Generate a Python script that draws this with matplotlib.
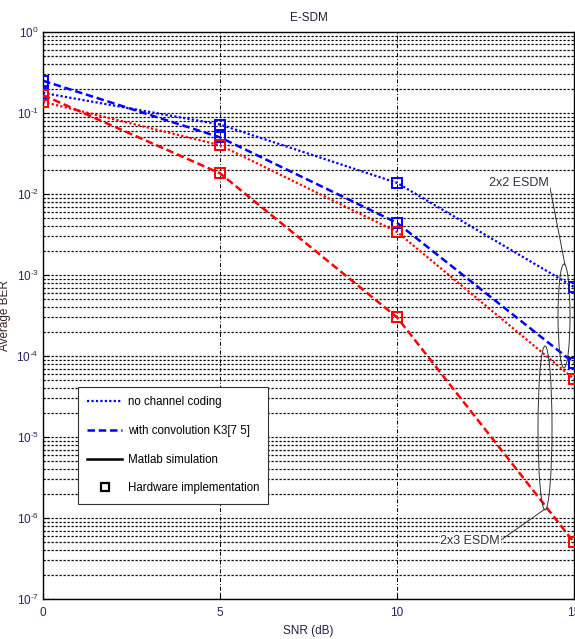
import matplotlib
matplotlib.use("Agg")
import matplotlib.pyplot as plt
from matplotlib.patches import Ellipse
from matplotlib.lines import Line2D
import numpy as np

plt.rcParams['font.family'] = ['Liberation Sans Narrow', 'Liberation Sans', 'DejaVu Sans']
plt.rcParams['mathtext.fontset'] = 'custom'
plt.rcParams['mathtext.rm'] = 'Liberation Sans'

snr = [0, 5, 10, 15]
ber_2x2_uncoded = [0.177, 0.072, 0.0137, 7.1e-4]
ber_2x2_coded = [0.25, 0.050, 0.0044, 8.2e-5]
ber_2x3_uncoded = [0.137, 0.040, 0.0034, 5.2e-5]
ber_2x3_coded = [0.166, 0.018, 3.0e-4, 5.0e-7]

xticks = [0, 5, 10, 15]
ydecades = [0, -1, -2, -3, -4, -5, -6, -7]

tick_color = '#26265a'

fig = plt.figure(figsize=(5.75, 6.39), dpi=100)
ax = fig.add_axes([0.0748, 0.0626, 0.9235, 0.8874])

# grid
for d in range(-7, 0):
    for m in range(1, 10):
        v = m * 10.0 ** d
        ax.axhline(v, color='black', lw=0.9, ls=(0, (1.8, 1.4)), zorder=0)
for xv in [5, 10]:
    ax.axvline(xv, color='black', lw=0.7, ls=(0, (4, 2, 1, 2)), zorder=0)

ms = 7
ax.plot(snr, ber_2x2_uncoded, color='blue', ls=(0, (1, 1)), lw=1.6,
        marker='s', ms=ms, mfc='none', mew=1.4, zorder=3)
ax.plot(snr, ber_2x2_coded, color='blue', ls=(0, (3, 1.5)), lw=1.8,
        marker='s', ms=ms, mfc='none', mew=1.4, zorder=3)
ax.plot(snr, ber_2x3_uncoded, color='red', ls=(0, (1, 1)), lw=1.6,
        marker='s', ms=ms, mfc='none', mew=1.4, zorder=3)
ax.plot(snr, ber_2x3_coded, color='red', ls=(0, (3, 1.5)), lw=1.8,
        marker='s', ms=ms, mfc='none', mew=1.4, zorder=3)

ax.set_yscale('log')
ax.set_xlim(0, 15)
ax.set_ylim(1e-7, 1)
ax.set_xticks(xticks)
ax.set_xticklabels([str(x) for x in xticks])
ax.set_yticks([10.0 ** d for d in ydecades])
ax.set_yticklabels([r'$10^{\text{%d}}$' % d for d in ydecades])
ax.yaxis.set_minor_locator(matplotlib.ticker.NullLocator())
ax.tick_params(axis='both', which='major', labelsize=8.5, colors='black',
               labelcolor=tick_color, direction='in', length=4)
ax.tick_params(axis='x', pad=6)
ax.tick_params(axis='y', pad=3)
for s in ax.spines.values():
    s.set_linewidth(1.0)

ax.set_title('E-SDM', fontsize=8.5, color='#202040', pad=8)
ax.set_xlabel('SNR (dB)', fontsize=8.5, color='#202040')
ax.xaxis.set_label_coords(0.5, -0.045)
ax.set_ylabel('Average BER', fontsize=8.5, color='#3a2020')
ax.yaxis.set_label_coords(-0.06, 0.5)

# annotations in pixel-based axes fraction
def px(x, y):
    x0, x1 = 43, 574
    y0, y1 = 599, 32
    return ((x - x0) / (x1 - x0), (y0 - y) / (y0 - y1))

def wpx(w):
    return w / (574 - 43)

def hpx(h):
    return h / (599 - 32)

cx, cy = px(564, 316)
e1 = Ellipse((cx, cy), wpx(12), hpx(104), transform=ax.transAxes,
             fill=False, ec='#333333', lw=0.7, zorder=4)
ax.add_patch(e1)
cx, cy = px(545, 428)
e2 = Ellipse((cx, cy), wpx(14), hpx(164), transform=ax.transAxes,
             fill=False, ec='#333333', lw=0.7, zorder=4)
ax.add_patch(e2)

p1 = px(550, 188)
p2 = px(565, 265)
ax.plot([p1[0], p2[0]], [p1[1], p2[1]], transform=ax.transAxes,
        color='#333333', lw=0.7, zorder=4)
tx = px(549, 183)
ax.text(tx[0], tx[1], '2x2 ESDM', transform=ax.transAxes, ha='right',
        va='center', fontsize=9, color='#303040', zorder=5,
        bbox=dict(fc='white', ec='none', pad=0.5))

p1 = px(501, 540)
p2 = px(545, 509)
ax.plot([p1[0], p2[0]], [p1[1], p2[1]], transform=ax.transAxes,
        color='#333333', lw=0.7, zorder=4)
tx = px(500, 541)
ax.text(tx[0], tx[1], '2x3 ESDM', transform=ax.transAxes, ha='right',
        va='center', fontsize=9, color='#303040', zorder=5,
        bbox=dict(fc='white', ec='none', pad=0.5))

handles = [
    Line2D([], [], color='blue', ls=(0, (1, 1)), lw=1.6),
    Line2D([], [], color='blue', ls=(0, (3, 1.5)), lw=1.8),
    Line2D([], [], color='black', ls='-', lw=1.8),
    Line2D([], [], color='black', ls='none', marker='s', ms=6, mfc='none', mew=1.6),
]
labels = ['no channel coding', 'with convolution K3[7 5]',
          'Matlab simulation', 'Hardware implementation']
leg = ax.legend(handles, labels, loc='upper left',
                bbox_to_anchor=px(78, 387), fontsize=8.3, frameon=True,
                fancybox=False, edgecolor='#333333', framealpha=1,
                handlelength=3.0, handletextpad=0.5, labelspacing=1.45,
                borderpad=0.8, borderaxespad=0)
leg.get_frame().set_linewidth(0.8)
leg.set_zorder(6)

fig.savefig('out.png', dpi=100)
